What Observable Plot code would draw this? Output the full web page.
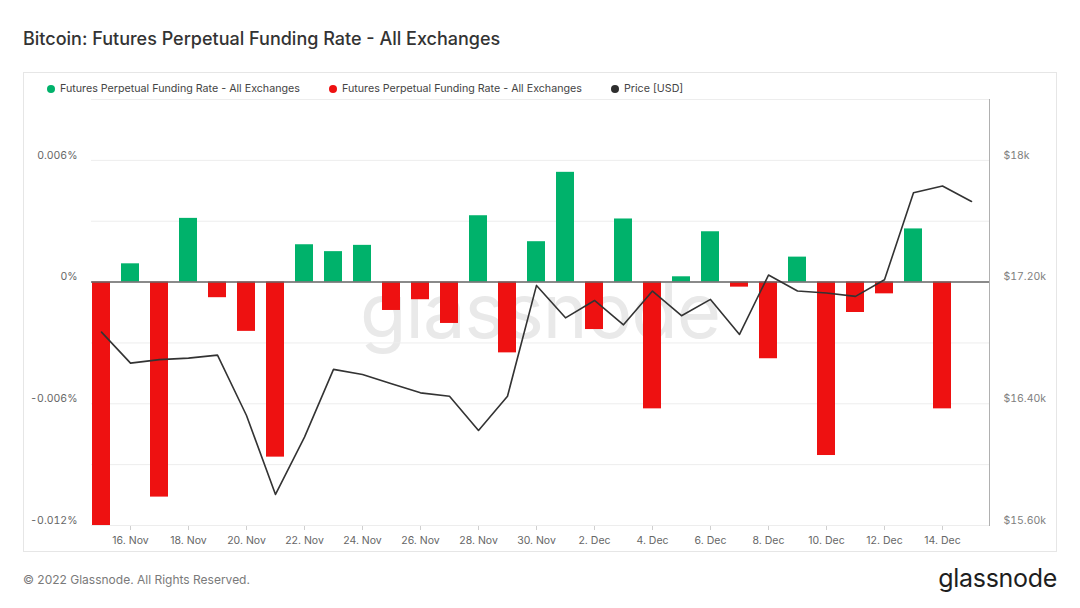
<!DOCTYPE html>
<html><head><meta charset="utf-8">
<script src="https://cdn.jsdelivr.net/npm/d3@7"></script>
<script src="https://cdn.jsdelivr.net/npm/@observablehq/plot@0.6"></script>
<style>
body{margin:0;background:#fff;font-family:Inter,Roboto,"Noto Sans",sans-serif;}
#wrap{position:relative;width:1080px;height:608px;overflow:hidden;background:#fff;}
#title{position:absolute;left:23px;top:28px;font-size:18px;font-weight:500;color:#333;white-space:nowrap;}
#frame{position:absolute;left:23px;top:72px;width:1032px;height:478px;border:1px solid #e6e6e6;}
.leg{position:absolute;top:82px;font-size:10.7px;color:#444;white-space:nowrap;display:flex;align-items:center;}
.leg i{display:inline-block;width:8px;height:8px;border-radius:50%;margin-right:5px;}
#wm{position:absolute;left:0;width:1080px;text-align:center;top:272px;font-family:Inter,sans-serif;font-size:76px;font-weight:400;color:#e9e9e9;line-height:1;letter-spacing:-1px;}
.plot{position:absolute;left:23px;top:72px;}
#foot{position:absolute;left:23px;top:572px;font-size:12px;color:#7a7a7a;}
#logo{position:absolute;right:23px;top:563px;font-family:Inter,sans-serif;font-size:25px;color:#1e1e1e;letter-spacing:-0.3px;}
g[aria-label="x-axis"] line, g[aria-label="x-axis tick"]{stroke:#cfcfcf;}
#p2 text{fill:#808080;}
g[aria-label^="y-axis"] text{translate:0 -5px;}
</style></head>
<body><div id="wrap">
<div id="title">Bitcoin: Futures Perpetual Funding Rate - All Exchanges</div>
<div id="frame"></div>
<div class="leg" style="left:47px"><i style="background:#00b26b"></i>Futures Perpetual Funding Rate - All Exchanges</div>
<div class="leg" style="left:329px"><i style="background:#ee1111"></i>Futures Perpetual Funding Rate - All Exchanges</div>
<div class="leg" style="left:611px"><i style="background:#2e2e2e"></i>Price [USD]</div>
<div id="wm">glassnode</div>
<div id="p1" class="plot"></div>
<div id="p2" class="plot"></div>
<div id="foot">© 2022 Glassnode. All Rights Reserved.</div>
<div id="logo">glassnode</div>
</div>
<script>
const dates = ["2022-11-15","2022-11-16","2022-11-17","2022-11-18","2022-11-19","2022-11-20","2022-11-21","2022-11-22","2022-11-23","2022-11-24","2022-11-25","2022-11-26","2022-11-27","2022-11-28","2022-11-29","2022-11-30","2022-12-01","2022-12-02","2022-12-03","2022-12-04","2022-12-05","2022-12-06","2022-12-07","2022-12-08","2022-12-09","2022-12-10","2022-12-11","2022-12-12","2022-12-13","2022-12-14","2022-12-15"];
// funding rate in %, 15 Nov .. 14 Dec
const funding = [-0.012,0.0009,-0.0106,0.00314,-0.00077,-0.00243,-0.00863,0.00184,0.0015,0.00181,-0.0014,-0.00087,-0.00204,0.00327,-0.00349,0.00199,0.00541,-0.00234,0.00311,-0.00625,0.00026,0.00248,-0.00025,-0.00378,0.00123,-0.00855,-0.0015,-0.00058,0.00262,-0.00625];
// price USD, 15 Nov .. 15 Dec
const price = [16871,16667,16690,16700,16720,16323,15804,16181,16626,16593,16532,16472,16450,16225,16450,17178,16965,17079,16919,17141,16979,17086,16856,17246,17141,17128,17106,17215,17787,17831,17730];
const xTicks = ["2022-11-16","2022-11-18","2022-11-20","2022-11-22","2022-11-24","2022-11-26","2022-11-28","2022-11-30","2022-12-02","2022-12-04","2022-12-06","2022-12-08","2022-12-10","2022-12-12","2022-12-14"];
const leftTicks = [-0.012,-0.006,0,0.006];
const gridTicks = [-0.012,-0.009,-0.006,-0.003,0,0.003,0.006,0.009];
const rightTicks = [15600,16400,17200,18000];
const green = "#00b26b", red = "#ee1111";

const bars = funding.map((v,i)=>({date:dates[i], v}));
const prices = price.map((p,i)=>({date:dates[i], p}));
const fmtDate = d3.utcFormat("%-d. %b");
const common = {width:1034,height:480,marginLeft:68,marginRight:68,marginTop:27,marginBottom:27};
const xBase = {type:"band",domain:dates,paddingInner:0.37,paddingOuter:0.13,align:0.13};

const p1 = Plot.plot({
  ...common,
  style:{background:"transparent",fontFamily:"Inter, sans-serif",fontSize:"10.5px",color:"#666",overflow:"visible"},
  x:{...xBase,ticks:xTicks,tickFormat:d=>fmtDate(new Date(d+"T00:00:00Z")),tickSize:5,tickPadding:6,label:null},
  y:{domain:[-0.012,0.009],ticks:leftTicks,tickFormat:d=>d===0?"0%":d.toFixed(3)+"%",tickSize:0,tickPadding:14,label:null},
  marks:[
    Plot.ruleY(gridTicks,{stroke:"#ededed"}),
    Plot.barY(bars.filter(d=>d.v>=0),{x:"date",y:"v",fill:green}),
    Plot.barY(bars.filter(d=>d.v<0),{x:"date",y:"v",fill:red}),
    Plot.ruleY([0],{stroke:"#666",strokeWidth:1.5})
  ]
});
document.getElementById("p1").appendChild(p1);

const p2 = Plot.plot({
  ...common,
  style:{background:"transparent",fontFamily:"Inter, sans-serif",fontSize:"10.5px",color:"#b0b0b0",overflow:"visible"},
  x:{...xBase,axis:null},
  y:{domain:[15600,18400],axis:"right",line:true,ticks:rightTicks,tickFormat:d=>"$"+(d===18000?"18k":(d/1000).toFixed(2)+"k"),tickSize:0,tickPadding:14,label:null},
  marks:[
    Plot.line(prices,{x:"date",y:"p",stroke:"#333",strokeWidth:1.6})
  ]
});
document.getElementById("p2").appendChild(p2);
</script>
</body></html>
